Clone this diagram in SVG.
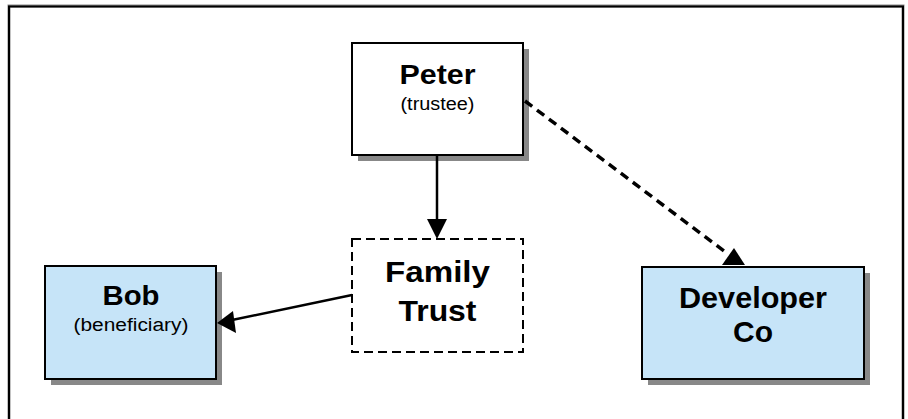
<svg xmlns="http://www.w3.org/2000/svg" width="908" height="419" viewBox="0 0 908 419">
<style>
.box{stroke:#000;stroke-width:2}
.shadow{fill:#888}
.blue{fill:#C6E4F8}
.white{fill:#fff}
.dash{fill:#fff;stroke:#000;stroke-width:2;stroke-dasharray:9 5}
.big{font-family:"Liberation Sans",Arial,sans-serif;font-weight:bold;fill:#000;text-anchor:middle}
.small{font-family:"Liberation Sans",Arial,sans-serif;fill:#000;text-anchor:middle}
.conn{stroke:#000;stroke-width:2.5;fill:none}
.dconn{stroke:#000;stroke-width:3.5;stroke-dasharray:9 6;fill:none}
</style>
<rect x="0" y="0" width="908" height="419" fill="#fff"/>
<rect x="9" y="6" width="894" height="440" fill="none" stroke="#888" stroke-width="3"/>
<rect x="9" y="6.5" width="894" height="440" fill="none" stroke="#000" stroke-width="2"/>

<g id="peter">
<rect class="shadow" x="358" y="49" width="171" height="112"/>
<rect class="box white" x="352" y="43" width="171" height="112"/>
<text class="big" x="437.5" y="84" font-size="27" textLength="76" lengthAdjust="spacingAndGlyphs">Peter</text>
<text class="small" x="437.5" y="110" font-size="18" textLength="74" lengthAdjust="spacingAndGlyphs">(trustee)</text>
</g>

<g id="family-trust">
<rect class="dash" x="352" y="239" width="171" height="113"/>
<text class="big" x="437.5" y="282" font-size="30" textLength="105" lengthAdjust="spacingAndGlyphs">Family</text>
<text class="big" x="437.5" y="321" font-size="30" textLength="78" lengthAdjust="spacingAndGlyphs">Trust</text>
</g>

<g id="bob">
<rect class="shadow" x="51" y="272" width="171" height="113"/>
<rect class="box blue" x="45" y="266" width="171" height="113"/>
<text class="big" x="131" y="305" font-size="27" textLength="57" lengthAdjust="spacingAndGlyphs">Bob</text>
<text class="small" x="131" y="331" font-size="18" textLength="115" lengthAdjust="spacingAndGlyphs">(beneficiary)</text>
</g>

<g id="developer-co">
<rect class="shadow" x="648" y="273" width="222" height="112"/>
<rect class="box blue" x="642" y="267" width="222" height="112"/>
<text class="big" x="753" y="308" font-size="30" textLength="148" lengthAdjust="spacingAndGlyphs">Developer</text>
<text class="big" x="753" y="342" font-size="30" textLength="40" lengthAdjust="spacingAndGlyphs">Co</text>
</g>

<g id="connectors">
<line class="conn" x1="437" y1="155" x2="437" y2="221"/>
<polygon points="427,219 447,219 437,239" fill="#000"/>
<line class="conn" x1="352" y1="295" x2="232" y2="320"/>
<polygon points="217,323 233,311 236,333" fill="#000"/>
<line class="dconn" x1="525" y1="101" x2="728" y2="254"/>
<polygon points="734,248 722,265 745,265" fill="#000"/>
</g>
</svg>
